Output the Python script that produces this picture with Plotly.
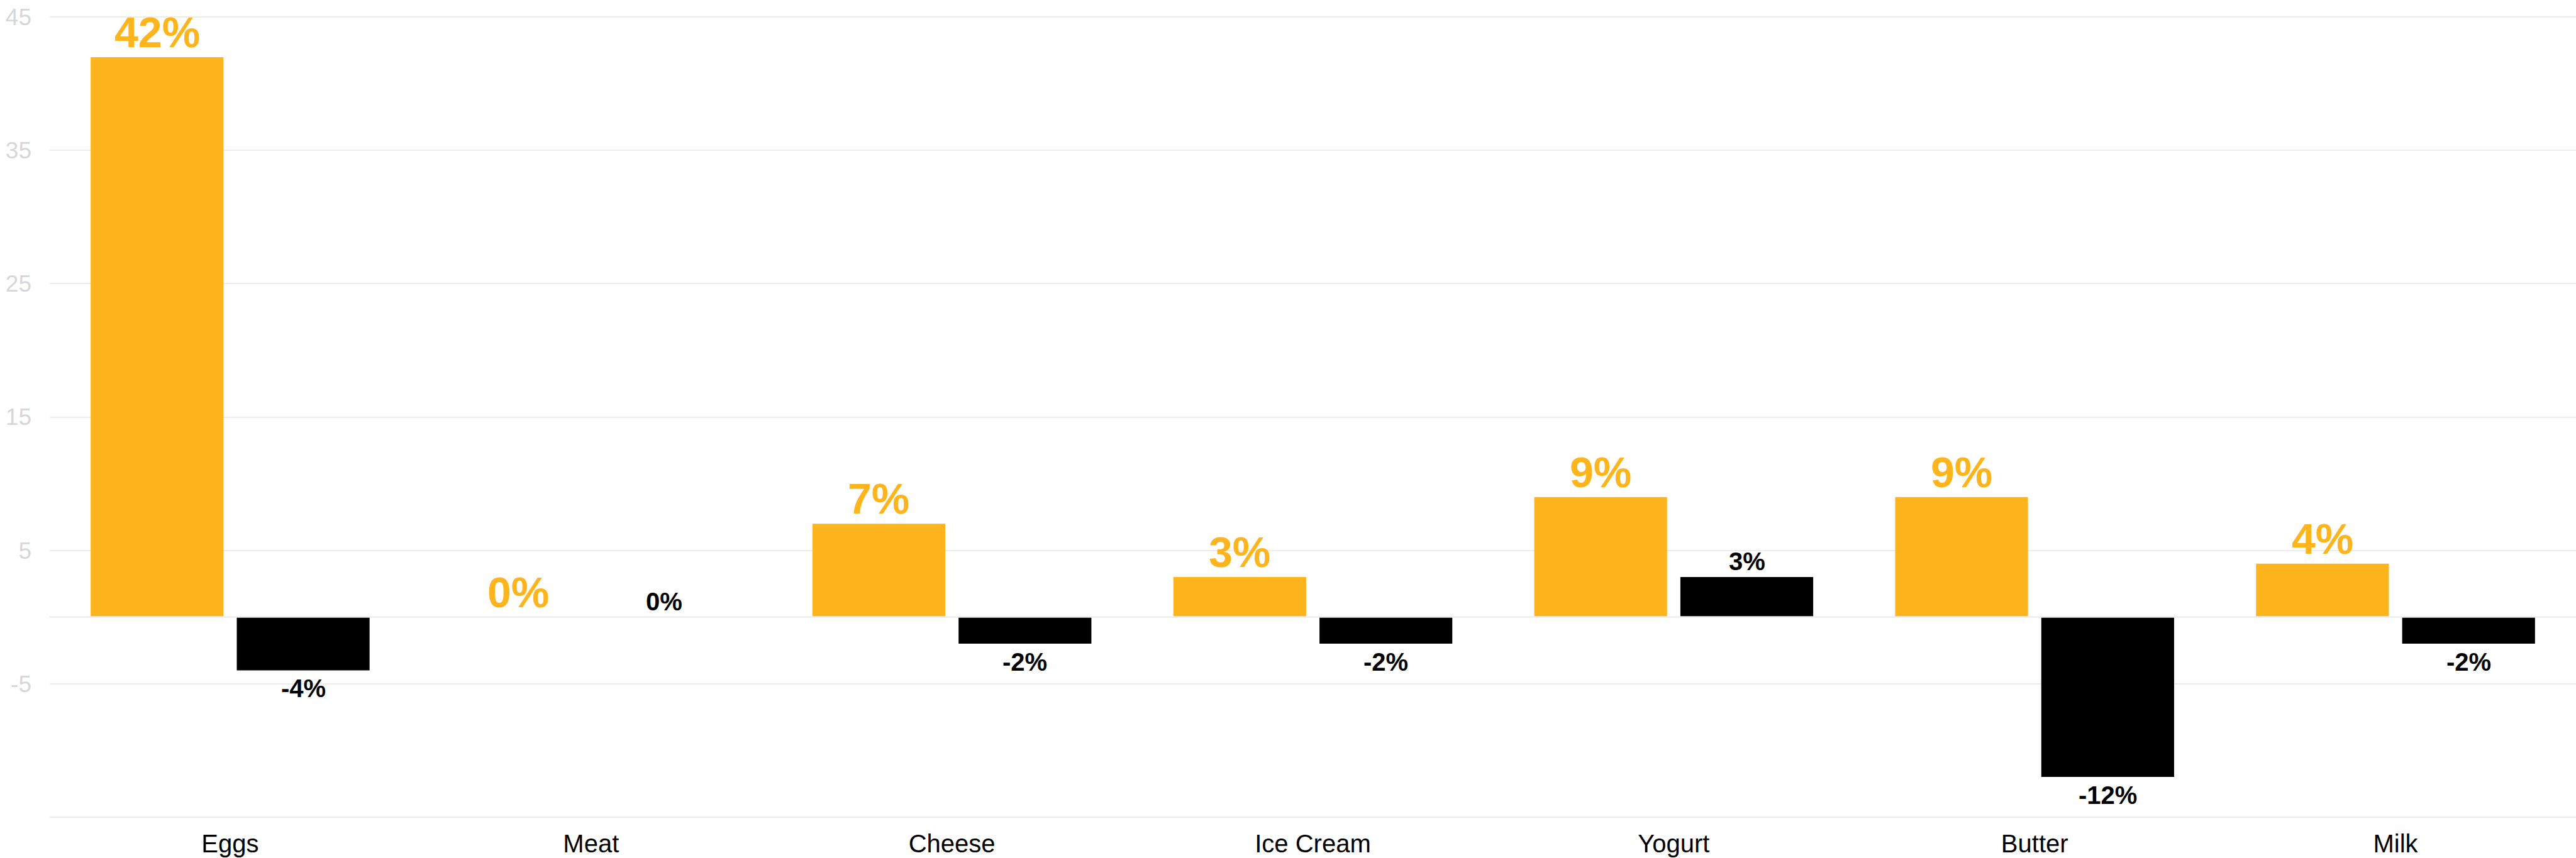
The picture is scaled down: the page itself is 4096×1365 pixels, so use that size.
import plotly.graph_objects as go

# Data
categories = ["Eggs", "Meat", "Cheese", "Ice Cream", "Yogurt", "Butter", "Milk"]
series_a = [42, 0, 7, 3, 9, 9, 4]        # yellow series (%)
series_b = [-4, 0, -2, -2, 3, -12, -2]   # black series (%)
y_ticks = [-15, -5, 5, 15, 25, 35, 45]
y_tick_labels = ["", "-5", "5", "15", "25", "35", "45"]

YELLOW = "#FEB41C"
BLACK = "#000000"
GRID = "#EDEDED"
FONT = "Liberation Sans, Arial, Helvetica, sans-serif"

# Bar geometry inside each category band (in category units)
BAR_W = 0.368
OFF_A = -0.3865
OFF_B = 0.0184

xs = list(range(len(categories)))

fig = go.Figure()
fig.add_trace(go.Bar(
    x=xs, y=series_a, width=BAR_W, offset=OFF_A,
    marker=dict(color=YELLOW, line=dict(width=0)),
    hoverinfo="skip", showlegend=False,
))
fig.add_trace(go.Bar(
    x=xs, y=series_b, width=BAR_W, offset=OFF_B,
    marker=dict(color=BLACK, line=dict(width=0)),
    hoverinfo="skip", showlegend=False,
))

annotations = []
for i, v in enumerate(series_a):
    annotations.append(dict(
        x=i + OFF_A + BAR_W / 2, y=v, xref="x", yref="y",
        text=f"{v}%", showarrow=False,
        xanchor="center", yanchor="bottom", yshift=0,
        font=dict(family=FONT, size=68, color=YELLOW, weight="bold"),
    ))
for i, v in enumerate(series_b):
    below = v < 0
    annotations.append(dict(
        x=i + OFF_B + BAR_W / 2, y=v, xref="x", yref="y",
        text=f"{v}%", showarrow=False,
        xanchor="center", yanchor="top" if below else "bottom",
        yshift=-5 if below else 1,
        font=dict(family=FONT, size=40, color=BLACK, weight="bold"),
    ))

fig.update_layout(
    width=4096, height=1365,
    margin=dict(l=79, r=0, t=26, b=64, pad=0),
    paper_bgcolor="white", plot_bgcolor="white",
    barmode="overlay",
    annotations=annotations,
    shapes=[dict(
        type="line", xref="paper", yref="y", x0=0, x1=1, y0=0, y1=0,
        line=dict(color=GRID, width=2.5), layer="above",
    )],
    xaxis=dict(
        range=[-0.5, len(categories) - 0.5],
        tickmode="array", tickvals=xs, ticktext=categories,
        showgrid=False, zeroline=False, showline=False, ticks="",
        tickfont=dict(family=FONT, size=40, color=BLACK),
        ticklabelstandoff=14,
        fixedrange=True,
    ),
    yaxis=dict(
        range=[-15.06, 45.06],
        tickmode="array", tickvals=y_ticks, ticktext=y_tick_labels,
        showgrid=True, gridcolor=GRID, gridwidth=2,
        zeroline=False, showline=False, ticks="",
        tickfont=dict(family=FONT, size=37, color="#D6D7D8"),
        ticklabelstandoff=28,
        fixedrange=True,
    ),
)

fig.write_html("out.html", config={"displayModeBar": False})
